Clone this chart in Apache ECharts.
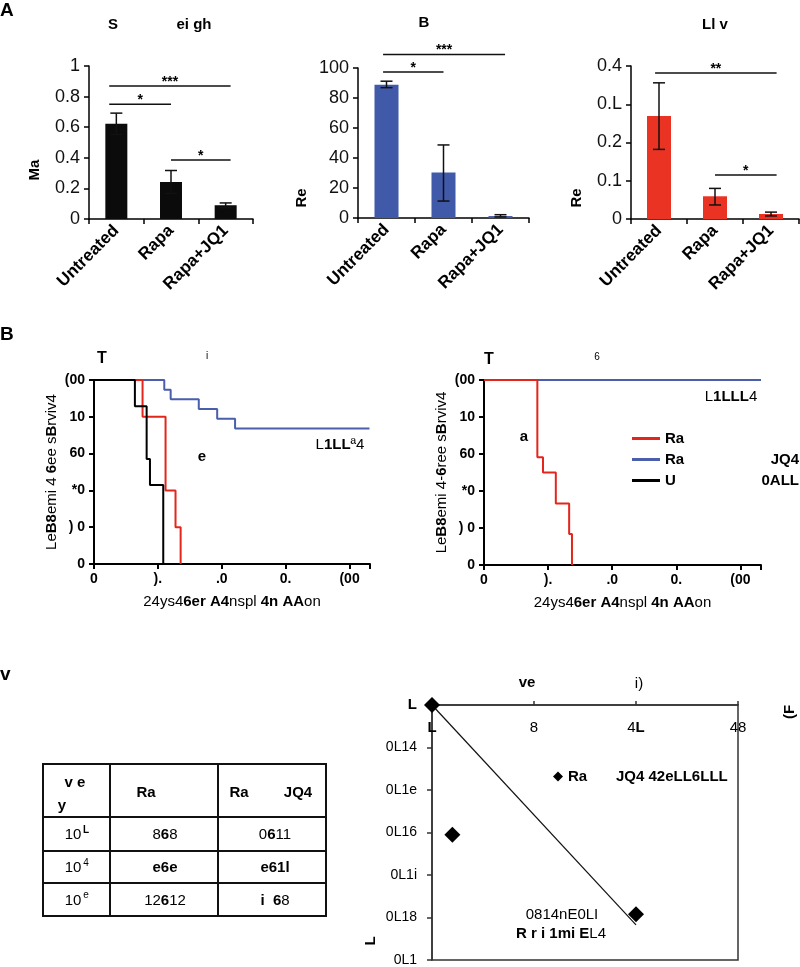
<!DOCTYPE html>
<html>
<head>
<meta charset="utf-8">
<title></title>
<script src="https://cdn.jsdelivr.net/npm/echarts@6.0.0/dist/echarts.min.js"></script>
<style>
html, body { margin: 0; padding: 0; background: #fff; }
#chart { width: 800px; height: 967px; }
</style>
</head>
<body>
<div id="chart"></div>
<script>
// ---- data ----
var categories = ['Untreated', 'Rapa', 'Rapa+JQ1'];

var spleenMean = [0.622, 0.242, 0.090];
var spleenLow = [0.552, 0.167, 0.074];
var spleenHigh = [0.692, 0.317, 0.105];
var spleenSig = [[0, 0.87, 2], [0, 0.75, 1], [1, 0.386, 2]];
var spleenStars = ['***', '*', '*'];

var bloodMean = [88.9, 30.3, 1.3];
var bloodLow = [86.9, 11.3, 0.7];
var bloodHigh = [91.2, 48.7, 2.2];
var bloodSig = [[0, 109, 2], [0, 97.3, 1]];
var bloodStars = ['***', '*'];

var liverMean = [0.269, 0.0594, 0.0131];
var liverLow = [0.182, 0.0367, 0.008];
var liverHigh = [0.356, 0.080, 0.018];
var liverSig = [[0, 0.382, 2], [1, 0.115, 2]];
var liverStars = ['**', '*'];
var liverTicks = ['0', '0.1', '0.2', '0.L', '0.4'];

var kmXTicks = ['0', ').', '.0', '0.', '(00'];
var kmYTicks = ['0', ') 0', '*0', '60', '10', '(00'];

var leftBlueT = [0, 27.5, 30, 41, 48.2, 55.2, 107.8];
var leftBlueS = [100, 94.7, 89.5, 84.2, 78.9, 73.7, 73.7];
var leftRedT = [0, 19, 28, 31.9, 33.9];
var leftRedS = [100, 80, 40, 20, 0];
var leftBlackT = [0, 16, 20.6, 21.9, 27.1];
var leftBlackS = [100, 85.7, 57.1, 42.9, 0];

var rightBlueT = [0, 108];
var rightBlueS = [100, 100];
var rightRedT = [0, 20.8, 23, 28, 33.2, 34.3];
var rightRedS = [100, 58.3, 50, 33.3, 16.7, 0];

var scatterX = [0, 1, 10];
var scatterY = [0, -0.061, -0.0985];
var fitX = [0, 10];
var fitY = [0, -0.1035];
var scatterXTicks = ['{b|L}', '8', '4{b|L}', '48'];
var scatterYTicks = ['{b|L}', '0L14', '0L1e', '0L16', '0L1i', '0L18', '0L1'];

var tableHead = ['Ra', 'Ra', 'JQ4'];
var tableRowSup = ['L', '4', 'e'];
var tableCol1 = ['8{b|6}8', '{b|e6e}', '12{b|6}12'];
var tableCol2 = ['0{b|6}11', '{b|e61l}', '{b|i  6}8'];

// ---- helpers ----
var FONT = 'Liberation Sans';
function zip(a, b) { return a.map(function (v, i) { return [v, b[i]]; }); }
function errData(lo, hi) { return lo.map(function (v, i) { return [i, v, hi[i]]; }); }

function errorBar(params, api) {
  var x = api.value(0);
  var lo = api.coord([x, api.value(1)]);
  var hi = api.coord([x, api.value(2)]);
  var w = 6, st = { stroke: '#111', lineWidth: 1.5 };
  return { type: 'group', children: [
    { type: 'line', shape: { x1: hi[0], y1: hi[1], x2: lo[0], y2: lo[1] }, style: st },
    { type: 'line', shape: { x1: hi[0] - w, y1: hi[1], x2: hi[0] + w, y2: hi[1] }, style: st },
    { type: 'line', shape: { x1: lo[0] - w, y1: lo[1], x2: lo[0] + w, y2: lo[1] }, style: st }
  ] };
}

function sigLines(stars, padStart, padEnd) {
  return function (params, api) {
    var from = api.value(0), y = api.value(1), to = api.value(2);
    var p0 = api.coord([from, y]), p1 = api.coord([to, y]);
    var bw = api.size([1, 0])[0];
    var a = p0[0] - (from === 0 ? padStart * bw : 0);
    var b = p1[0] + (to === 2 ? padEnd * bw : 0);
    return { type: 'group', children: [
      { type: 'line', shape: { x1: a, y1: p0[1], x2: b, y2: p0[1] }, style: { stroke: '#111', lineWidth: 1.5 } },
      { type: 'text', style: { text: stars[params.dataIndex], x: (a + b) / 2, y: p0[1] - 4,
        align: 'center', verticalAlign: 'middle', fontSize: 14, fontWeight: 'bold', fontFamily: FONT, fill: '#000' } }
    ] };
  };
}

function barX(i) {
  return {
    gridIndex: i, type: 'category', data: categories,
    axisLine: { lineStyle: { color: '#000', width: 1.5 } },
    axisTick: { show: true, length: 5, lineStyle: { color: '#000', width: 1.5 } },
    axisLabel: { rotate: 45, interval: 0, fontSize: 17, fontWeight: 'bold', color: '#000', margin: 9 },
    splitLine: { show: false }
  };
}
function barY(i, max, interval, fmt) {
  return {
    gridIndex: i, type: 'value', min: 0, max: max, interval: interval,
    axisLine: { show: true, lineStyle: { color: '#000', width: 1.5 } },
    axisTick: { show: true, length: 5, lineStyle: { color: '#000', width: 1.5 } },
    axisLabel: { fontSize: 18, color: '#111', margin: 9, formatter: fmt },
    splitLine: { show: false }
  };
}
function kmX(i) {
  return {
    gridIndex: i, type: 'value', min: 0, max: 108, interval: 25,
    axisLine: { lineStyle: { color: '#000', width: 2 } },
    axisTick: { length: 5, lineStyle: { color: '#000', width: 2 } },
    axisLabel: { fontSize: 14, fontWeight: 'bold', color: '#000', margin: 8,
      formatter: function (v) { var k = v / 25; return (k % 1 === 0 && k < kmXTicks.length) ? kmXTicks[k] : ''; } },
    splitLine: { show: false },
    name: '24ys4{b|6er A4}nspl {b|4n AA}on', nameLocation: 'middle', nameGap: 30, nameMoveOverlap: false,
    nameTextStyle: { fontSize: 15, color: '#000', rich: { b: { fontSize: 15, fontWeight: 'bold', color: '#000' } } }
  };
}
function kmY(i, name) {
  return {
    gridIndex: i, type: 'value', min: 0, max: 100, interval: 20,
    axisLine: { show: true, lineStyle: { color: '#000', width: 2 } },
    axisTick: { show: true, length: 5, lineStyle: { color: '#000', width: 2 } },
    axisLabel: { fontSize: 14, fontWeight: 'bold', color: '#000', margin: 9,
      formatter: function (v) { return kmYTicks[Math.round(v / 20)]; } },
    splitLine: { show: false },
    name: name, nameLocation: 'middle', nameGap: 35, nameRotate: 90, nameMoveOverlap: false,
    nameTextStyle: { fontSize: 15, color: '#000', rich: { b: { fontSize: 15, fontWeight: 'bold', color: '#000' } } }
  };
}
function kmLine(x, y, color, z) {
  return { type: 'line', step: 'end', data: zip(x, y), symbol: 'none', clip: false, z: z,
    lineStyle: { color: color, width: 2 }, itemStyle: { color: color } };
}
function txt(x, y, s, o) {
  o = o || {};
  return { type: 'text', x: x, y: y, rotation: o.rot || 0, z: 10,
    style: { text: s, fill: '#000', fontSize: o.size || 15, fontWeight: o.w || 'bold', fontFamily: FONT,
      align: o.align || 'center', verticalAlign: 'middle',
      rich: { b: { fontWeight: 'bold', fontSize: o.size || 15, fontFamily: FONT },
              n: { fontWeight: 'normal', fontSize: o.size || 15, fontFamily: FONT } } } };
}

// ---- table (panel C left) ----
var tLeft = 43, tTop = 764, colW = [67, 108, 108], rowH = [53, 34, 32, 33];
var colX = [tLeft, tLeft + colW[0], tLeft + colW[0] + colW[1], tLeft + colW[0] + colW[1] + colW[2]];
var rowY = [tTop];
rowH.forEach(function (h, i) { rowY.push(rowY[i] + h); });
var tableEls = [
  { type: 'rect', shape: { x: colX[0], y: rowY[0], width: colX[3] - colX[0], height: rowY[4] - rowY[0] },
    style: { fill: 'none', stroke: '#111', lineWidth: 2 } }
];
[1, 2].forEach(function (c) {
  tableEls.push({ type: 'line', shape: { x1: colX[c], y1: rowY[0], x2: colX[c], y2: rowY[4] }, style: { stroke: '#111', lineWidth: 2 } });
});
[1, 2, 3].forEach(function (r) {
  tableEls.push({ type: 'line', shape: { x1: colX[0], y1: rowY[r], x2: colX[3], y2: rowY[r] }, style: { stroke: '#111', lineWidth: 2 } });
});
tableEls.push(txt(75, 783, 'v e'), txt(62, 806, 'y'));
tableEls.push(txt(146, 793, tableHead[0]), txt(239, 793, tableHead[1]), txt(298, 793, tableHead[2]));
tableRowSup.forEach(function (s, r) {
  var cy = (rowY[r + 1] + rowY[r + 2]) / 2 + 1;
  tableEls.push(txt(73, cy, '10', { w: 'normal' }));
  tableEls.push(txt(86, cy - 5, s, { size: 10, w: r === 0 ? 'bold' : 'normal' }));
  tableEls.push(txt(165, cy, tableCol1[r], { w: 'normal' }));
  tableEls.push(txt(275, cy, tableCol2[r], { w: 'normal' }));
});

var chart = echarts.init(document.getElementById('chart'));
var baseGrid = { containLabel: false, outerBoundsMode: 'none' };
function g(o) { return Object.assign({}, baseGrid, o); }

var option = {
  backgroundColor: '#fff',
  animation: false,
  textStyle: { fontFamily: FONT },
  grid: [
    g({ left: 89, top: 66, width: 164, height: 153 }),
    g({ left: 358, top: 68, width: 171, height: 150 }),
    g({ left: 631, top: 66, width: 168, height: 153 }),
    g({ left: 94, top: 380, width: 276, height: 184 }),
    g({ left: 484, top: 380, width: 277, height: 185 }),
    g({ left: 432, top: 705, width: 306, height: 255, show: true, borderColor: '#333', borderWidth: 1.5 })
  ],
  xAxis: [
    barX(0), barX(1), barX(2), kmX(3), kmX(4),
    { gridIndex: 5, type: 'value', position: 'top', min: 0, max: 15, interval: 5,
      axisLine: { show: true, lineStyle: { color: '#333', width: 1.5 } },
      axisTick: { show: true, length: 4, lineStyle: { color: '#333', width: 1.5 } },
      axisLabel: { inside: true, margin: 15, fontSize: 15, color: '#000',
        formatter: function (v) { return scatterXTicks[Math.round(v / 5)]; },
        rich: { b: { fontWeight: 'bold', fontSize: 15, color: '#000' } } },
      splitLine: { show: false } }
  ],
  yAxis: [
    barY(0, 1, 0.2),
    barY(1, 100, 20),
    barY(2, 0.4, 0.1, function (v) { return liverTicks[Math.round(v / 0.1)]; }),
    kmY(3, 'Le{b|B8}emi 4 {b|6}ee s{b|B}rviv4'),
    kmY(4, 'Le{b|B8}emi 4-{b|6}ree s{b|B}rviv4'),
    { gridIndex: 5, type: 'value', min: -0.12, max: 0, interval: 0.02,
      axisLine: { show: true, lineStyle: { color: '#333', width: 1.5 } },
      axisTick: { show: true, length: 5, lineStyle: { color: '#333', width: 1.5 } },
      axisLabel: { margin: 15, fontSize: 14, color: '#000',
        formatter: function (v) { return scatterYTicks[Math.round(-v / 0.02)]; },
        rich: { b: { fontWeight: 'bold', fontSize: 15, color: '#000' } } },
      splitLine: { show: false } }
  ],
  legend: [
    { data: ['Ra', 'Ra JQ4', 'U 0ALL'], orient: 'vertical', left: 627, top: 423,
      itemWidth: 28, itemHeight: 3, itemGap: 0, icon: 'rect', selectedMode: false,
      formatter: function (n) { var i = n.indexOf(' '); return i < 0 ? '{a|' + n + '}' : '{a|' + n.slice(0, i) + '}{c|' + n.slice(i + 1) + '}'; },
      textStyle: { fontSize: 15, fontWeight: 'bold', color: '#000', lineHeight: 21,
        rich: { a: { width: 96, fontSize: 15, fontWeight: 'bold', color: '#000', lineHeight: 21 },
                c: { width: 38, align: 'right', fontSize: 15, fontWeight: 'bold', color: '#000', lineHeight: 21 } } } },
    { data: ['Ra JQ4 42eLL6LLL'], left: 548, top: 764, icon: 'diamond',
      itemWidth: 10, itemHeight: 10, selectedMode: false,
      itemStyle: { color: '#000', opacity: 1 },
      formatter: function (n) { var i = n.indexOf(' '); return '{a|' + n.slice(0, i) + '}{c|' + n.slice(i + 1) + '}'; },
      textStyle: { fontSize: 15, fontWeight: 'bold', color: '#000',
        rich: { a: { width: 48, fontSize: 15, fontWeight: 'bold', color: '#000' },
                c: { fontSize: 15, fontWeight: 'bold', color: '#000' } } } }
  ],
  series: [
    { type: 'bar', name: 'spleen', xAxisIndex: 0, yAxisIndex: 0, data: spleenMean, barWidth: 22, itemStyle: { color: '#0b0b0b' } },
    { type: 'custom', xAxisIndex: 0, yAxisIndex: 0, data: errData(spleenLow, spleenHigh), encode: { x: 0, y: [1, 2] }, renderItem: errorBar, z: 5 },
    { type: 'custom', xAxisIndex: 0, yAxisIndex: 0, data: spleenSig, encode: { x: 0, y: 1 }, renderItem: sigLines(spleenStars, 0.13, 0.09), z: 5 },

    { type: 'bar', name: 'blood', xAxisIndex: 1, yAxisIndex: 1, data: bloodMean, barWidth: 24, itemStyle: { color: '#4159a9' } },
    { type: 'custom', xAxisIndex: 1, yAxisIndex: 1, data: errData(bloodLow, bloodHigh), encode: { x: 0, y: [1, 2] }, renderItem: errorBar, z: 5 },
    { type: 'custom', xAxisIndex: 1, yAxisIndex: 1, data: bloodSig, encode: { x: 0, y: 1 }, renderItem: sigLines(bloodStars, 0.06, 0.08), z: 5 },

    { type: 'bar', name: 'liver', xAxisIndex: 2, yAxisIndex: 2, data: liverMean, barWidth: 24, itemStyle: { color: '#ea3323' } },
    { type: 'custom', xAxisIndex: 2, yAxisIndex: 2, data: errData(liverLow, liverHigh), encode: { x: 0, y: [1, 2] }, renderItem: errorBar, z: 5 },
    { type: 'custom', xAxisIndex: 2, yAxisIndex: 2, data: liverSig, encode: { x: 0, y: 1 }, renderItem: sigLines(liverStars, 0.07, 0.1), z: 5 },

    Object.assign(kmLine(leftBlueT, leftBlueS, '#4a5eab', 2), { name: 'kmL-blue', xAxisIndex: 3, yAxisIndex: 3 }),
    Object.assign(kmLine(leftRedT, leftRedS, '#e3261c', 3), { name: 'kmL-red', xAxisIndex: 3, yAxisIndex: 3 }),
    Object.assign(kmLine(leftBlackT, leftBlackS, '#000', 4), { name: 'kmL-black', xAxisIndex: 3, yAxisIndex: 3 }),

    Object.assign(kmLine([], [], '#000', 2), { name: 'U 0ALL', xAxisIndex: 4, yAxisIndex: 4 }),
    Object.assign(kmLine(rightBlueT, rightBlueS, '#4a5eab', 3), { name: 'Ra JQ4', xAxisIndex: 4, yAxisIndex: 4 }),
    Object.assign(kmLine(rightRedT, rightRedS, '#e3261c', 4), { name: 'Ra', xAxisIndex: 4, yAxisIndex: 4 }),

    { type: 'line', name: 'fit', xAxisIndex: 5, yAxisIndex: 5, data: zip(fitX, fitY), symbol: 'none', clip: false,
      lineStyle: { color: '#111', width: 1.2 } },
    { type: 'scatter', name: 'Ra JQ4 42eLL6LLL', xAxisIndex: 5, yAxisIndex: 5, data: zip(scatterX, scatterY),
      symbol: 'diamond', symbolSize: 16, clip: false, itemStyle: { color: '#000', opacity: 1 }, z: 6 }
  ],
  graphic: [
    txt(0, 11, 'A', { size: 19, align: 'left' }),
    txt(113, 25, 'S'), txt(194, 25, 'ei gh'),
    txt(424, 23, 'B'),
    txt(715, 25, 'Ll v'),
    txt(35, 170, 'Ma', { rot: Math.PI / 2 }),
    txt(302, 198, 'Re', { rot: Math.PI / 2 }),
    txt(577, 198, 'Re', { rot: Math.PI / 2 }),

    txt(0, 335, 'B', { size: 19, align: 'left' }),
    txt(102, 359, 'T', { size: 16 }),
    txt(207, 356, 'i', { size: 10, w: 'normal' }),
    txt(340, 445, 'L{b|1LL}ª4', { w: 'normal' }),
    txt(202, 457, 'e'),
    txt(489, 360, 'T', { size: 16 }),
    txt(597, 357, '6', { size: 10, w: 'normal' }),
    txt(731, 397, 'L{b|1LLL}4', { w: 'normal' }),
    txt(524, 437, 'a'),

    txt(0, 675, 'v', { size: 19, align: 'left' }),
    txt(527, 683, 've'),
    txt(639, 684, '{s|i})', { w: 'normal' }),
    txt(790, 712, '(F', { rot: Math.PI / 2 }),
    txt(371, 941, 'L', { rot: Math.PI / 2 }),
    txt(562, 915, '0814nE0LI', { w: 'normal' }),
    txt(561, 934, 'R r i 1mi E{n|L4}')
  ].concat(tableEls)
};

chart.setOption(option);
</script>
</body>
</html>
